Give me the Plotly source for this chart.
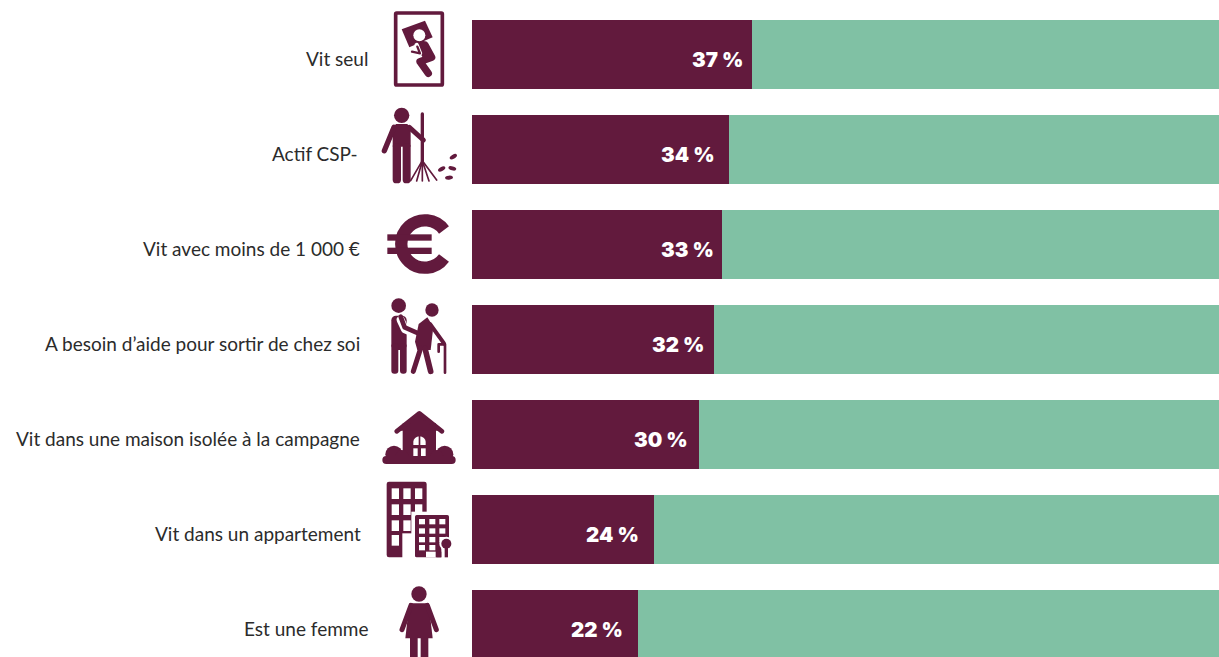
import base64
import plotly.graph_objects as go

categories = ["Vit seul", "Actif CSP-", "Vit avec moins de 1 000 €",
              "A besoin d’aide pour sortir de chez soi",
              "Vit dans une maison isolée à la campagne",
              "Vit dans un appartement", "Est une femme"]
values = [37, 34, 33, 32, 30, 24, 22]
rest = [100 - v for v in values]
label_right = [370, 360, 362, 362, 362, 363, 370]
value_gap = [10, 15, 9, 11, 12, 16, 16]

W, H = 1219, 657
MAROON = "#621a3d"
GREEN = "#80c1a4"
INK = "#2b2b2b"

M = MAROON
def line(pts, w, col=M, cap="round"):
    d = " ".join(f"{x},{y}" for x, y in pts)
    return f'<polyline points="{d}" fill="none" stroke="{col}" stroke-width="{w}" stroke-linecap="{cap}" stroke-linejoin="round"/>'
def circ(x, y, r, col=M):
    return f'<circle cx="{x}" cy="{y}" r="{r}" fill="{col}"/>'
def rect(x0, y0, x1, y1, col=M, r=0):
    return f'<rect x="{x0}" y="{y0}" width="{x1-x0}" height="{y1-y0}" rx="{r}" fill="{col}"/>'
def poly(pts, col=M):
    d = " ".join(f"{x},{y}" for x, y in pts)
    return f'<polygon points="{d}" fill="{col}"/>'
def leaf(x, y, a):
    return f'<ellipse cx="{x}" cy="{y}" rx="12" ry="6" fill="{M}" transform="rotate({a} {x} {y})"/>'

bed = (f'<rect x="77" y="39" width="140" height="216" rx="3" fill="none" stroke="{M}" stroke-width="11"/>'
       + poly([(95, 88), (165, 62), (188, 112), (118, 142)])
       + line([(165, 135), (185, 172), (150, 185), (175, 220)], 22)
       + line([(150, 128), (170, 165)], 28)
       + line([(122, 155), (150, 160), (140, 135)], 13, "white")
       + line([(126, 155), (150, 160), (142, 140)], 7)
       + circ(148, 106, 18, "white"))

rake = (circ(95, 346, 23)
        + poly([(68, 385), (78, 372), (112, 372), (122, 385), (122, 440), (68, 440)])
        + rect(68, 430, 93, 550, M, 11) + rect(98, 430, 122, 550, M, 11)
        + line([(72, 382), (43, 452)], 16) + line([(118, 382), (160, 420)], 15)
        + line([(157, 342), (157, 495)], 10)
        + line([(157, 482), (122, 542)], 5) + line([(157, 482), (140, 543)], 5)
        + line([(157, 482), (157, 543)], 5) + line([(157, 482), (177, 543)], 5)
        + line([(157, 482), (200, 540)], 5)
        + leaf(250, 470, -30) + leaf(215, 507, -30) + leaf(247, 505, 15) + leaf(237, 533, -5))

euro = (f'<path d="M 222 90 A 71 71 0 1 0 222 174" fill="none" stroke="{M}" stroke-width="37"/>'
        + rect(52, 103, 185, 122) + rect(52, 143, 185, 162))

helper = (circ(86, 317, 22)
          + rect(64, 347, 110, 450, M, 14)
          + rect(64, 430, 85, 521, M, 9) + rect(90, 430, 110, 521, M, 9)
          + line([(92, 360), (105, 388), (145, 405)], 24, "white")
          + line([(92, 350), (104, 382), (145, 400)], 14)
          + circ(186, 330, 20)
          + poly([(146, 372), (172, 352), (190, 380), (182, 450), (142, 450), (135, 425)])
          + line([(152, 445), (130, 514)], 15) + line([(165, 445), (182, 514)], 17)
          + line([(180, 372), (222, 430)], 12)
          + line([(206, 455), (206, 433), (225, 433), (225, 518)], 8))

house = (rect(98, 70, 198, 190)
         + poly([(85, 92), (148, 42), (211, 92)])
         + line([(80, 94), (148, 40), (216, 94)], 14)
         + f'<path d="M 130 135 V 125 A 18.5 16 0 0 1 167 125 V 135 Z" fill="white"/>'
         + rect(146, 108, 151, 136)
         + rect(130, 145, 143, 171, "white") + rect(153, 145, 167, 171, "white")
         + circ(72, 163, 26) + circ(96, 170, 20) + circ(224, 163, 26) + circ(200, 170, 20)
         + rect(37, 168, 257, 192, M, 12))

win1 = "".join(rect(x, y, x + 22, y + 32, "white")
               for y in (265, 313, 361) for x in (65, 100, 135))
win2 = "".join(rect(x, y, x + 18, y + 16, "white")
               for y in (357, 385, 411) for x in (147, 178, 208))
building = (rect(50, 245, 170, 472, M, 7) + win1 + rect(65, 405, 87, 437, "white")
            + rect(97, 400, 172, 474, "white") + rect(124, 335, 172, 405, "white")
            + rect(135, 345, 237, 472, M, 5) + win2
            + rect(147, 435, 165, 451, "white") + rect(178, 435, 196, 451, "white")
            + rect(168, 455, 197, 472, "white")
            + circ(229, 431, 21, "white") + rect(214, 440, 244, 474, "white") + rect(199, 455, 214, 472)
            + circ(229, 431, 15) + rect(224, 440, 234, 472))

woman = (circ(147, 582, 23)
         + poly([(118, 610), (176, 610), (188, 715), (106, 715)])
         + line([(123, 616), (96, 689)], 15) + line([(172, 616), (199, 689)], 15)
         + rect(120, 705, 143, 775) + rect(152, 705, 175, 775))

# (drawing, page x of crop, page y of crop, zoom-space y range)
icons = [(bed, 370, 0, 0, 290), (rake, 370, 0, 290, 600),
         (euro, 370, 200, 0, 270), (helper, 370, 200, 270, 600),
         (house, 370, 400, 0, 210), (building, 370, 400, 210, 520), (woman, 370, 400, 520, 771)]

images = []
for body, ox, oy, z0, z1 in icons:
    zw, zh = 300, z1 - z0
    svg = (f'<svg xmlns="http://www.w3.org/2000/svg" width="{zw}" height="{zh}" '
           f'viewBox="0 {z0} {zw} {zh}">{body}</svg>')
    uri = "data:image/svg+xml;base64," + base64.b64encode(svg.encode()).decode()
    images.append(dict(source=uri, xref="paper", yref="paper", xanchor="left", yanchor="top",
                       x=ox / W, y=1 - (oy + z0 / 3) / H,
                       sizex=(zw / 3) / W, sizey=(zh / 3) / H, sizing="stretch", layer="above"))

fig = go.Figure()
fig.add_bar(y=categories, x=values, orientation="h", marker=dict(color=MAROON, line_width=0), hoverinfo="y+x")
fig.add_bar(y=categories, x=rest, orientation="h", marker=dict(color=GREEN, line_width=0), hoverinfo="y+x")

annotations = []
for c, v, r, g in zip(categories, values, label_right, value_gap):
    annotations.append(dict(xref="paper", yref="y", x=r / W, y=c, xanchor="right", yanchor="middle",
                            text=c, showarrow=False, align="right", yshift=-4,
                            font=dict(family="Lato", size=19, color=INK, weight=400)))
    annotations.append(dict(xref="x", yref="y", x=v, y=c, xanchor="right", yanchor="middle",
                            xshift=-(g - 3), yshift=-5,
                            text=f"{v}\u00a0%", showarrow=False,
                            font=dict(family="Inter", size=20.5, color="white", weight=900)))

fig.update_layout(
    width=W, height=H, margin=dict(l=0, r=0, t=0, b=0, pad=0),
    paper_bgcolor="white", plot_bgcolor="white", showlegend=False,
    barmode="stack", bargap=26 / 95,
    xaxis=dict(domain=[472 / W, 1], range=[0, 98.75], visible=False),
    yaxis=dict(range=[(H - 54.5) / 95, -54.5 / 95], visible=False, type="category",
               categoryorder="array", categoryarray=categories),
    images=images, annotations=annotations,
)
fig.write_html("out.html", config=dict(displayModeBar=False, responsive=False),
               post_script="document.body.style.margin='0';document.body.style.overflow='hidden';")
